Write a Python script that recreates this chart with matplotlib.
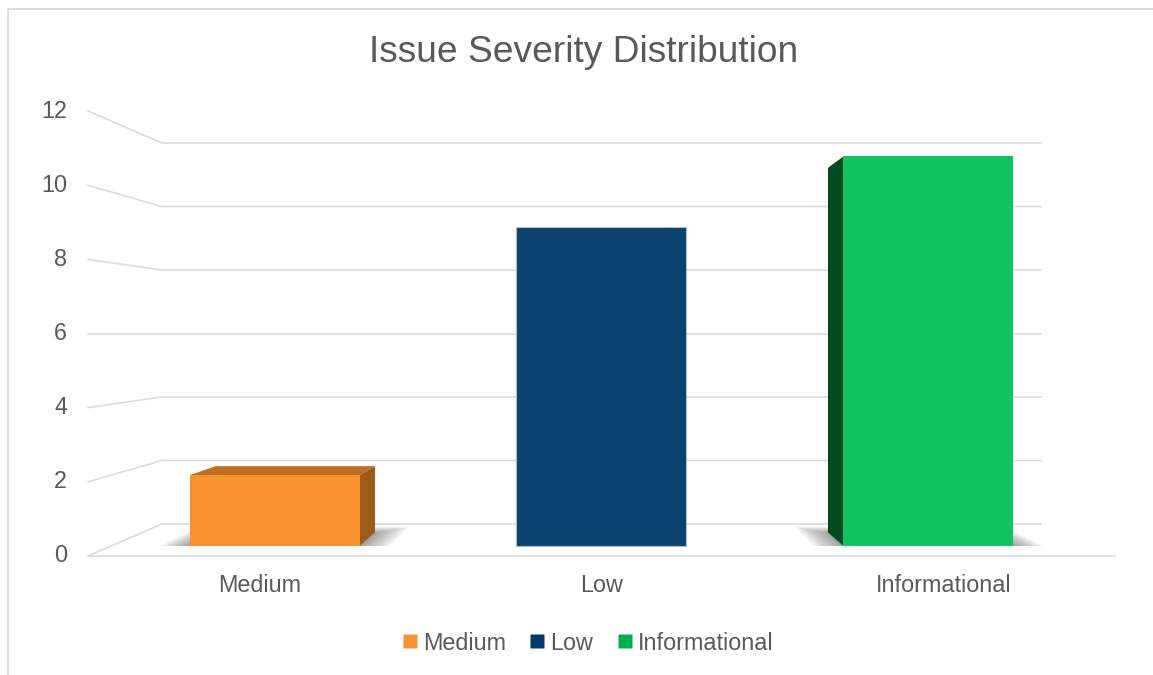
import matplotlib
matplotlib.use('Agg')
import matplotlib.pyplot as plt
from matplotlib.patches import Polygon, Rectangle
from matplotlib.lines import Line2D
import matplotlib.transforms as mtransforms

plt.rcParams['font.family'] = ['Liberation Sans', 'DejaVu Sans']

# ---------------- data ----------------
categories = ['Medium', 'Low', 'Informational']
values = [2, 9, 11]
y_ticks = [0, 2, 4, 6, 8, 10, 12]
title = 'Issue Severity Distribution'

# ---------------- style ----------------
front_colors = ['#F8932F', '#0C426D', '#12C361']
side_colors = ['#9E5B1B', '#062C4C', '#024A22']
top_colors = ['#BF6E21', '#0A3A63', '#0B8A45']
legend_colors = ['#F79332', '#003A66', '#00B050']
edge_colors = ['none', '#A9BBCD', 'none']
has_shadow = [True, False, True]
TEXT = '#595959'
GRID = '#D9D9D9'

W, H = 1153, 675
fig = plt.figure(figsize=(W / 100, H / 100), dpi=100)
ax = fig.add_axes([0, 0, 1, 1])

# front-plane coordinates: x in category units, y in value units
X0_PX, CAT_PX = 88, 342.33
Y0_PX, VAL_PX = 556, 37.08
ax.set_xlim(-X0_PX / CAT_PX, (W - X0_PX) / CAT_PX)
ax.set_ylim(-(H - Y0_PX) / VAL_PX, Y0_PX / VAL_PX)
ax.axis('off')

# perspective parameters
VPX, VPY = 1.5, 6.0
S_WALL = 0.856
S_BAR_F, S_BAR_B = 0.955, 0.894
BAR_W = 0.52
n = len(categories)


def proj(x, y, s):
    return (VPX + (x - VPX) * s, VPY + (y - VPY) * s)


# gridlines: left side wall + back wall
for v in y_ticks:
    pts = [proj(0, v, 1.0), proj(0, v, S_WALL), proj(n, v, S_WALL)]
    ax.plot([p[0] for p in pts], [p[1] for p in pts], color=GRID, lw=1.1,
            zorder=1, solid_joinstyle='miter')
# floor front edge
p0, p1 = proj(0, 0, 1.0), proj(n, 0, 1.0)
ax.plot([p0[0], p1[0]], [p0[1], p1[1]], color=GRID, lw=1.1, zorder=1)

# bars
for i, (cat, v) in enumerate(zip(categories, values)):
    c = i + 0.5
    xl, xr = c - BAR_W / 2, c + BAR_W / 2

    # soft shadow on floor
    if has_shadow[i]:
        for k in range(7):
            e = 0.012 + 0.013 * k
            poly = [proj(xl - e, 0, S_BAR_F), proj(xr + e, 0, S_BAR_F),
                    proj(xr + e, 0, S_BAR_B - 0.004 * k), proj(xl - e, 0, S_BAR_B - 0.004 * k)]
            ax.add_patch(Polygon(poly, closed=True, facecolor='#3a3a3a',
                                 edgecolor='none', alpha=0.08, zorder=2))

    # side face
    if c < VPX:
        xe = xr
    elif c > VPX:
        xe = xl
    else:
        xe = None
    if xe is not None:
        poly = [proj(xe, 0, S_BAR_F), proj(xe, v, S_BAR_F),
                proj(xe, v, S_BAR_B), proj(xe, 0, S_BAR_B)]
        ax.add_patch(Polygon(poly, closed=True, facecolor=side_colors[i],
                             edgecolor='none', zorder=3))
    # top face
    if v < VPY:
        poly = [proj(xl, v, S_BAR_F), proj(xr, v, S_BAR_F),
                proj(xr, v, S_BAR_B), proj(xl, v, S_BAR_B)]
        ax.add_patch(Polygon(poly, closed=True, facecolor=top_colors[i],
                             edgecolor='none', zorder=3))

    # front face
    fx0, fy0 = proj(xl, 0, S_BAR_F)
    fx1, fy1 = proj(xr, v, S_BAR_F)
    ax.bar((fx0 + fx1) / 2, fy1 - fy0, width=fx1 - fx0, bottom=fy0,
           color=front_colors[i], edgecolor=edge_colors[i],
           linewidth=0.8, zorder=4)

# y tick labels at the front-left edge
tick_tr = mtransforms.offset_copy(ax.transData, fig=fig, x=-15, y=0, units='points')
for v in y_ticks:
    x, y = proj(0, v, 1.0)
    ax.text(x, y, str(v), transform=tick_tr, ha='right', va='center',
            fontsize=16.8, color=TEXT)

# category labels
cat_tr = mtransforms.offset_copy(ax.transData, fig=fig, x=0, y=-21, units='points')
for i, cat in enumerate(categories):
    x, y = proj(i + 0.5, 0, 1.0)
    ax.text(x, y, cat, transform=cat_tr, ha='center', va='center',
            fontsize=16.8, color=TEXT)

# title
fig.text(584 / W, 1 - 52 / H, title, ha='center', va='center',
         fontsize=26.7, color=TEXT)

# legend
handles = [Line2D([], [], linestyle='none', marker='s', markersize=10,
                  markerfacecolor=col, markeredgecolor='none')
           for col in legend_colors]
fig.legend(handles, categories, loc='center', bbox_to_anchor=(587.5 / W, 1 - 643 / H),
           ncol=3, frameon=False, fontsize=16.8, handlelength=0.7,
           handletextpad=0.2, columnspacing=1.0, labelcolor=TEXT)

# chart border (top & left visible)
fig.patches.append(Rectangle((8 / W, -0.1), 1.2, 1.1 - 9 / H, transform=fig.transFigure,
                             fill=False, edgecolor='#D9D9D9', linewidth=1.2))

fig.savefig('out.png', dpi=100)
